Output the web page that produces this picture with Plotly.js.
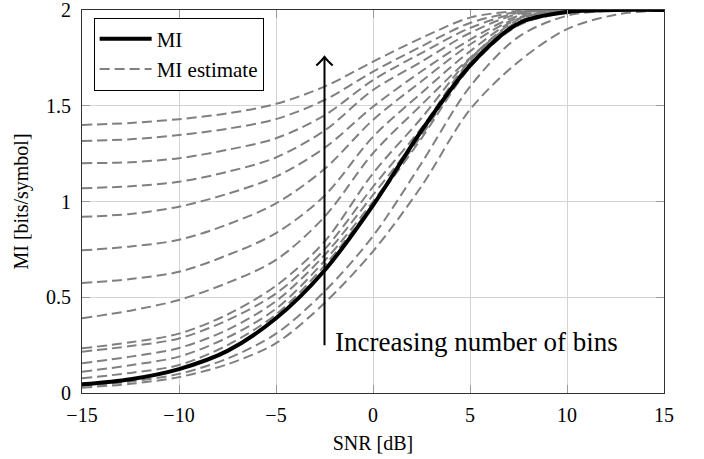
<!DOCTYPE html>
<html>
<head>
<meta charset="utf-8">
<script src="https://cdn.plot.ly/plotly-3.0.1.min.js"></script>
<style>html,body{margin:0;padding:0;background:#fff;}#chart{width:704px;height:459px;}</style>
</head>
<body>
<div id="chart"></div>
<script>
// SNR grid [dB]
var snr = [-15, -12.5, -10, -7.5, -5, -2.5, 0, 2.5, 5, 7.5, 10, 12.5, 15];
// true mutual information
var mi = [0.045, 0.072, 0.125, 0.22, 0.39, 0.64, 0.98, 1.37, 1.71, 1.93, 1.99, 2.0, 2.0];
// MI estimates, ordered by increasing number of bins
var est1  = [0.028, 0.048, 0.083, 0.15, 0.26, 0.47, 0.74, 1.08, 1.48, 1.73, 1.90, 1.975, 2.0];
var est2  = [0.037, 0.06, 0.10, 0.18, 0.31, 0.53, 0.82, 1.20, 1.60, 1.86, 1.97, 1.998, 2.0];
var est3  = [0.077, 0.105, 0.146, 0.25, 0.41, 0.665, 0.985, 1.33, 1.70, 1.92, 1.985, 2.0, 2.0];
var est4  = [0.111, 0.145, 0.19, 0.29, 0.44, 0.69, 1.0, 1.345, 1.715, 1.925, 1.988, 2.0, 2.0];
var est5  = [0.155, 0.19, 0.235, 0.33, 0.48, 0.72, 1.034, 1.36, 1.725, 1.93, 1.99, 2.0, 2.0];
var est6  = [0.216, 0.245, 0.285, 0.38, 0.52, 0.75, 1.077, 1.384, 1.735, 1.935, 1.99, 2.0, 2.0];
var est7  = [0.233, 0.265, 0.31, 0.41, 0.56, 0.79, 1.147, 1.436, 1.745, 1.94, 1.992, 2.0, 2.0];
var est8  = [0.39, 0.43, 0.486, 0.575, 0.695, 0.92, 1.252, 1.505, 1.75, 1.95, 1.995, 2.0, 2.0];
var est9  = [0.574, 0.595, 0.633, 0.72, 0.835, 1.03, 1.338, 1.567, 1.784, 1.955, 1.996, 2.0, 2.0];
var est10 = [0.745, 0.765, 0.80, 0.88, 0.99, 1.17, 1.426, 1.628, 1.82, 1.96, 1.997, 2.0, 2.0];
var est11 = [0.92, 0.935, 0.973, 1.04, 1.13, 1.28, 1.495, 1.68, 1.845, 1.97, 1.998, 2.0, 2.0];
var est12 = [1.069, 1.08, 1.103, 1.155, 1.23, 1.37, 1.582, 1.73, 1.88, 1.98, 2.0, 2.0, 2.0];
var est13 = [1.20, 1.205, 1.226, 1.27, 1.33, 1.45, 1.634, 1.775, 1.906, 1.985, 2.0, 2.0, 2.0];
var est14 = [1.316, 1.325, 1.347, 1.38, 1.43, 1.53, 1.678, 1.81, 1.932, 1.99, 2.0, 2.0, 2.0];
var est15 = [1.40, 1.41, 1.43, 1.46, 1.51, 1.60, 1.73, 1.854, 1.96, 1.995, 2.0, 2.0, 2.0];
var estimates = [est1, est2, est3, est4, est5, est6, est7, est8, est9, est10, est11, est12, est13, est14, est15];

var xTicks = [-15, -10, -5, 0, 5, 10, 15];
var yTicks = [0, 0.5, 1, 1.5, 2];
var labelMI = 'MI';
var labelEst = 'MI estimate';
var arrowText = 'Increasing number of bins';
var arrowX = -2.5, arrowFrom = 0.25, arrowTo = 1.755;

var FONT = 'Liberation Serif';
var traces = [];
estimates.forEach(function (e, i) {
  traces.push({
    x: snr, y: e, type: 'scatter', mode: 'lines',
    name: labelEst, legendgroup: 'est', showlegend: i === 0, legendrank: 2,
    line: {color: '#808080', width: 2, dash: '10px,5px', shape: 'spline', smoothing: 0.9},
    hoverinfo: 'skip'
  });
});
traces.push({
  x: snr, y: mi, type: 'scatter', mode: 'lines', name: labelMI, legendrank: 1,
  line: {color: '#000000', width: 4, shape: 'spline', smoothing: 0.9}
});

var layout = {
  width: 704, height: 459,
  margin: {l: 82, r: 40, t: 10, b: 66},
  paper_bgcolor: '#fff', plot_bgcolor: '#fff',
  font: {family: FONT, size: 20, color: '#000'},
  showlegend: true,
  legend: {x: 0.02, y: 0.98, xanchor: 'left', yanchor: 'top',
    bgcolor: '#fff', bordercolor: '#000', borderwidth: 1, itemwidth: 52,
    font: {family: FONT, size: 21, color: '#000'}, tracegroupgap: 0},
  xaxis: {range: [-15, 15], tickvals: xTicks, ticks: 'inside', ticklen: 8,
    tickcolor: '#999', mirror: 'ticks', showline: true, linecolor: '#333', linewidth: 1,
    showgrid: true, gridcolor: '#d3d3d3', gridwidth: 1, zeroline: false,
    tickfont: {family: FONT, size: 20, color: '#000'}, ticklabeloverflow: 'allow',
    title: {text: 'SNR [dB]', font: {family: FONT, size: 20, color: '#000'}, standoff: 10},
    ticklabelstandoff: 4},
  yaxis: {range: [0, 2], tickvals: yTicks, ticks: 'inside', ticklen: 8,
    tickcolor: '#999', mirror: 'ticks', showline: true, linecolor: '#333', linewidth: 1,
    showgrid: true, gridcolor: '#d3d3d3', gridwidth: 1, zeroline: false,
    tickfont: {family: FONT, size: 20, color: '#000'}, ticklabeloverflow: 'allow',
    title: {text: 'MI [bits/symbol]', font: {family: FONT, size: 20, color: '#000'}, standoff: 12},
    ticklabelstandoff: 6},
  shapes: [
    {type: 'line', xref: 'x', yref: 'y', x0: arrowX, x1: arrowX, y0: arrowFrom, y1: arrowTo,
      line: {color: '#000', width: 2}},
    {type: 'path', xref: 'x', yref: 'y',
      path: 'M ' + (arrowX - 0.42) + ',' + (arrowTo - 0.045) + ' Q ' + (arrowX - 0.1) + ',' + (arrowTo - 0.015) + ' ' + arrowX + ',' + arrowTo +
            ' Q ' + (arrowX + 0.1) + ',' + (arrowTo - 0.015) + ' ' + (arrowX + 0.42) + ',' + (arrowTo - 0.045),
      line: {color: '#000', width: 2}}
  ],
  annotations: [
    {xref: 'x', yref: 'y', x: -2.05, y: 0.265, xanchor: 'left', yanchor: 'middle',
      text: arrowText, showarrow: false, font: {family: FONT, size: 27, color: '#000'}}
  ]
};

Plotly.newPlot('chart', traces, layout, {staticPlot: true, displayModeBar: false});
</script>
</body>
</html>
